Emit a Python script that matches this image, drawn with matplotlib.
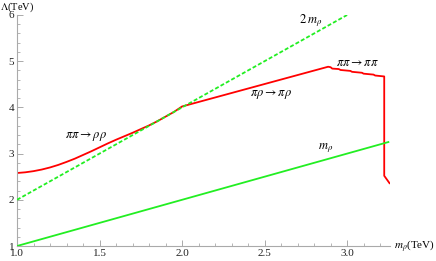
import matplotlib
matplotlib.use("Agg")
import matplotlib.pyplot as plt
from matplotlib.ticker import MultipleLocator, FormatStrFormatter

plt.rcParams['mathtext.fontset'] = 'stix'
plt.rcParams['font.family'] = ['Liberation Serif', 'DejaVu Serif']

# data
m_rho = [1.0, 3.25]
m_rho_line = [1.0, 3.25]
m_dash = [1.0, 3.0]
two_m_rho = [2.0, 6.0]

red_x = [1.0, 1.05, 1.1, 1.15, 1.2, 1.25, 1.3, 1.35, 1.4, 1.45, 1.5,
         1.55, 1.6, 1.65, 1.7, 1.75, 1.8, 1.85, 1.9, 1.95, 2.0,
         2.885, 2.90, 2.91, 2.95, 2.96, 3.02, 3.03, 3.09, 3.10, 3.16, 3.17,
         3.225, 3.225, 3.257]
red_y = [2.58, 2.595, 2.62, 2.655, 2.70, 2.755, 2.82, 2.89, 2.97, 3.05, 3.135,
         3.22, 3.30, 3.375, 3.45, 3.53, 3.61, 3.70, 3.80, 3.90, 4.02,
         4.88, 4.87, 4.84, 4.83, 4.81, 4.79, 4.77, 4.75, 4.73, 4.71, 4.69,
         4.67, 2.52, 2.36]

fig = plt.figure(figsize=(4.36, 2.61), dpi=100)
ax = fig.add_axes([17/436, 15/261, 373/436, 231/261])
ax.set_xlim(1.0, 3.26)
ax.set_ylim(1.0, 6.0)

red = '#ff0000'
green = '#22ee22'
ax.plot(red_x, red_y, color=red, lw=1.3, zorder=2)
ax.plot(m_rho, m_rho_line, color=green, lw=1.3, zorder=3)
ax.plot(m_dash, two_m_rho, color=green, lw=1.3, ls=(0, (2.2, 1.2)), zorder=3)

for s in ['top', 'right']:
    ax.spines[s].set_visible(False)
for s in ['left', 'bottom']:
    ax.spines[s].set_color('#aaaaaa')
    ax.spines[s].set_linewidth(0.8)

ax.xaxis.set_major_locator(MultipleLocator(0.5))
ax.xaxis.set_minor_locator(MultipleLocator(0.1))
ax.yaxis.set_major_locator(MultipleLocator(1))
ax.yaxis.set_minor_locator(MultipleLocator(0.2))
ax.xaxis.set_major_formatter(FormatStrFormatter('%.1f'))
ax.tick_params(which='both', direction='in', color='#aaaaaa', labelsize=8,
               labelcolor='#222222')
ax.tick_params(which='major', length=4, width=0.7, pad=2)
ax.tick_params(which='minor', length=2, width=0.6)

fig.text(0.0, 1.0, r'$\Lambda$(TeV)', fontsize=7.5,
         ha='left', va='top')
fig.text(1.0 - 1/436, 15/261, r'$m_\rho$(TeV)', fontsize=8,
         ha='right', va='center')

ax.text(1.42, 3.36, r'$\pi\pi \rightarrow \rho\rho$', fontsize=9, ha='center', va='center')
ax.text(2.54, 4.27, r'$\pi\rho \rightarrow \pi\rho$', fontsize=9, ha='center', va='center')
ax.text(3.06, 4.97, r'$\pi\pi \rightarrow \pi\pi$', fontsize=9, ha='center', va='center')
ax.text(2.78, 5.87, r'$2\;m_\rho$', fontsize=9, ha='center', va='center')
ax.text(2.87, 3.12, r'$m_\rho$', fontsize=9, ha='center', va='center')

fig.savefig('out.png', dpi=100)
